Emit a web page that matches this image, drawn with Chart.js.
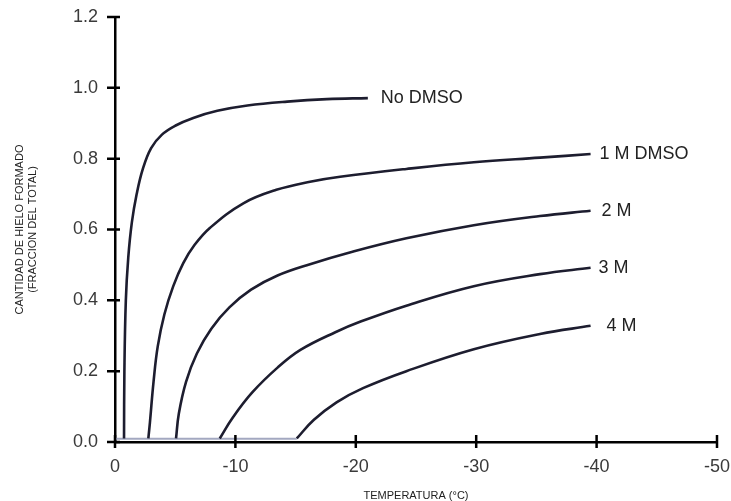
<!DOCTYPE html>
<html>
<head>
<meta charset="utf-8">
<script src="https://cdn.jsdelivr.net/npm/chart.js@4/dist/chart.umd.min.js"></script>
<style>
    html, body { margin: 0; padding: 0; background: #fff; }
    #IceChart { display: block; }
</style>
</head>
<body>
<canvas id="IceChart" width="731" height="501"></canvas>
<script>
// curve labels
var curveLabels = ['No DMSO', '1 M DMSO', '2 M', '3 M', '4 M'];

// temperature (°C) and fraction of ice formed
var noDmsoTemp = [-0.75, -0.78, -0.9, -1.1, -1.4, -1.8, -2.3, -3.0, -3.9, -5.0, -6.5, -8.5, -11.0, -14.3, -17.6, -21.0];
var noDmsoIce = [0.01, 0.2, 0.4, 0.52, 0.62, 0.70, 0.77, 0.83, 0.868, 0.893, 0.915, 0.935, 0.95, 0.961, 0.968, 0.971];

var oneMTemp = [-2.77, -2.9, -3.2, -3.55, -4.1, -4.84, -5.67, -6.6, -7.9, -10.66, -13.4, -16.2, -18.7, -24.2, -29.8, -35.3, -39.5];
var oneMIce = [0.01, 0.055, 0.17, 0.27, 0.36, 0.44, 0.505, 0.556, 0.605, 0.674, 0.712, 0.735, 0.749, 0.771, 0.79, 0.803, 0.813];

var twoMTemp = [-5.07, -5.3, -5.9, -6.8, -8.0, -9.5, -11.3, -13.5, -16.2, -19.5, -24.2, -29.8, -35.3, -39.5];
var twoMIce = [0.01, 0.08, 0.17, 0.25, 0.32, 0.38, 0.43, 0.47, 0.502, 0.535, 0.575, 0.612, 0.638, 0.653];

var threeMTemp = [-8.7, -9.8, -11.4, -13.5, -15.4, -18.3, -20.4, -24.2, -29.8, -35.3, -39.5];
var threeMIce = [0.01, 0.07, 0.14, 0.21, 0.26, 0.31, 0.34, 0.385, 0.44, 0.474, 0.492];

var fourMTemp = [-15.1, -16.5, -18.4, -20.6, -24.2, -29.8, -35.3, -39.5];
var fourMIce = [0.01, 0.062, 0.112, 0.152, 0.2, 0.262, 0.305, 0.328];

// flat part before freezing starts
var baseTemp = [0, -15.1];
var baseIce = [0.009, 0.009];

// axis ticks
var xTicks = [0, -10, -20, -30, -40, -50];
var yTicks = [0, 0.2, 0.4, 0.6, 0.8, 1.0, 1.2];

function toPoints(xs, ys) {
    return xs.map(function (x, i) { return { x: x, y: ys[i] }; });
}

var curveColor = '#1d1d2f';
var labelShift = [13, 9, 11, 8, 16];

function curve(label, xs, ys) {
    return {
        label: label,
        data: toPoints(xs, ys),
        borderColor: curveColor,
        borderWidth: 2.6,
        pointRadius: 0,
        tension: 0.4,
        fill: false
    };
}

// axis tick marks crossing the axis lines + end labels of the curves
var decorations = {
    id: 'decorations',
    afterDraw: function (chart) {
        var ctx = chart.ctx;
        var xs = chart.scales.x, ys = chart.scales.y;
        var x0 = xs.getPixelForValue(0), y0 = ys.getPixelForValue(0);
        ctx.save();
        ctx.strokeStyle = '#000';
        ctx.lineWidth = 2.5;
        ctx.beginPath();
        xTicks.forEach(function (t) {
            var px = xs.getPixelForValue(t);
            ctx.moveTo(px, y0 - 7);
            ctx.lineTo(px, y0 + 6);
        });
        yTicks.forEach(function (t) {
            var py = ys.getPixelForValue(t);
            ctx.moveTo(x0 - 8, py);
            ctx.lineTo(x0 + 5, py);
        });
        ctx.stroke();

        ctx.fillStyle = '#222';
        ctx.font = '18px "Liberation Sans", Arial, sans-serif';
        ctx.textBaseline = 'middle';
        ctx.textAlign = 'left';
        curveLabels.forEach(function (name, i) {
            var meta = chart.getDatasetMeta(i);
            var last = meta.data[meta.data.length - 1];
            ctx.fillText(name, last.x + labelShift[i], last.y);
        });
        ctx.restore();
    }
};

var tickFont = { family: '"Liberation Sans", Arial, sans-serif', size: 18 };
var titleFont = { family: '"Liberation Sans", Arial, sans-serif', size: 11 };

var iceChart = new Chart(document.getElementById('IceChart'), {
    type: 'line',
    data: {
        datasets: [
            curve(curveLabels[0], noDmsoTemp, noDmsoIce),
            curve(curveLabels[1], oneMTemp, oneMIce),
            curve(curveLabels[2], twoMTemp, twoMIce),
            curve(curveLabels[3], threeMTemp, threeMIce),
            curve(curveLabels[4], fourMTemp, fourMIce),
            {
                label: 'base',
                data: toPoints(baseTemp, baseIce),
                borderColor: '#a3a8c0',
                borderWidth: 2,
                pointRadius: 0,
                fill: false
            }
        ]
    },
    options: {
        responsive: false,
        animation: false,
        devicePixelRatio: 1,
        layout: { padding: { top: 17, right: 14, left: 0, bottom: 0 } },
        plugins: {
            legend: { display: false },
            tooltip: { enabled: false }
        },
        scales: {
            x: {
                type: 'linear',
                min: -50,
                max: 0,
                reverse: true,
                grid: { display: false, drawTicks: false },
                border: { color: '#000', width: 2.5 },
                afterBuildTicks: function (s) {
                    s.ticks = xTicks.map(function (v) { return { value: v }; });
                },
                afterFit: function (s) {
                    s.height = 59;
                    s.paddingLeft = 0;
                    s.paddingRight = 0;
                },
                ticks: {
                    color: '#3a3a3a',
                    font: tickFont,
                    padding: 14,
                    maxRotation: 0,
                    callback: function (v) { return String(v); }
                },
                title: {
                    display: true,
                    text: 'TEMPERATURA (°C)',
                    color: '#222',
                    font: titleFont,
                    padding: { top: 0, bottom: -2 }
                }
            },
            y: {
                min: 0,
                max: 1.2,
                grid: { display: false, drawTicks: false },
                border: { color: '#000', width: 2.5 },
                afterBuildTicks: function (s) {
                    s.ticks = yTicks.map(function (v) { return { value: v }; });
                },
                afterFit: function (s) {
                    s.width = 115;
                    s.paddingTop = 0;
                    s.paddingBottom = 0;
                },
                ticks: {
                    color: '#3a3a3a',
                    font: tickFont,
                    padding: 17,
                    callback: function (v) { return v.toFixed(1); }
                },
                title: {
                    display: true,
                    text: ['CANTIDAD DE HIELO FORMADO', '(FRACCION DEL TOTAL)'],
                    color: '#222',
                    font: titleFont,
                    padding: { top: 13, bottom: 0 }
                }
            }
        }
    },
    plugins: [decorations]
});
</script>
</body>
</html>
